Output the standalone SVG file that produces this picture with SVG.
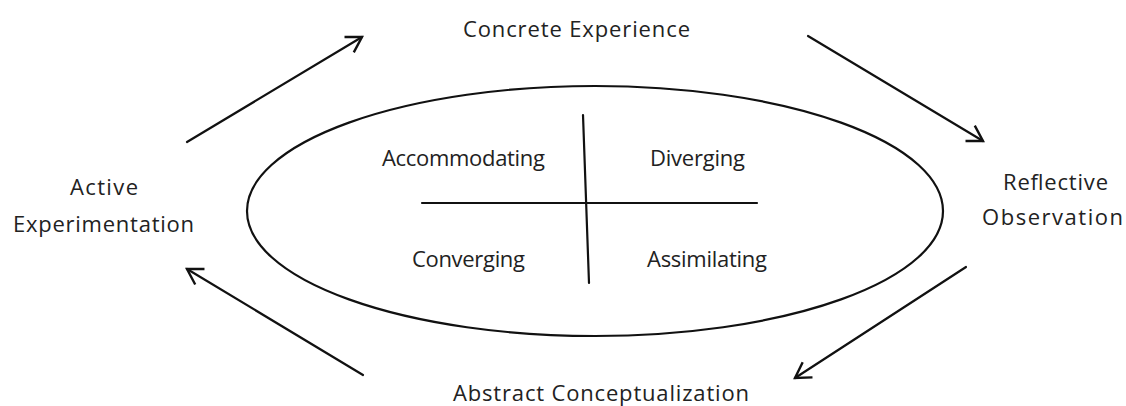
<svg xmlns="http://www.w3.org/2000/svg" width="1126" height="406" viewBox="0 0 1126 406">
<defs>
<style>
text{font-family:"Open Sans","Liberation Sans",sans-serif;font-size:22px;fill:#222;}
.ln{stroke:#111;stroke-width:2.2;fill:none;stroke-linecap:round;}
</style>
<marker id="ah" viewBox="0 0 12 12" refX="11" refY="6" markerWidth="12" markerHeight="12" markerUnits="userSpaceOnUse" orient="auto" overflow="visible">
<path d="M-4,-3 L11,6 L-4,15" fill="none" stroke="#111" stroke-width="2.4"/>
</marker>
</defs>
<rect width="1126" height="406" fill="#fff"/>
<g id="cycle">
<ellipse cx="595" cy="211" rx="348" ry="125" class="ln"/>
<line x1="583" y1="115" x2="589" y2="283" class="ln"/>
<line x1="422" y1="203" x2="757" y2="203" class="ln"/>
</g>
<g id="connectors">
<line x1="187" y1="142" x2="362" y2="37" class="ln" marker-end="url(#ah)"/>
<line x1="808" y1="36" x2="983" y2="141" class="ln" marker-end="url(#ah)"/>
<line x1="966" y1="267" x2="795" y2="378" class="ln" marker-end="url(#ah)"/>
<line x1="363" y1="375" x2="187" y2="269" class="ln" marker-end="url(#ah)"/>
</g>
<g id="concrete"><text x="463" y="37" textLength="227">Concrete Experience</text></g>
<g id="reflective"><text x="1003" y="190" textLength="105">Reflective</text><text x="982" y="225" textLength="141">Observation</text></g>
<g id="abstract"><text x="453" y="401" textLength="296">Abstract Conceptualization</text></g>
<g id="active"><text x="70" y="195" textLength="68">Active</text><text x="13" y="232" textLength="181">Experimentation</text></g>
<g id="accommodating"><text x="382" y="166" textLength="163">Accommodating</text></g>
<g id="diverging"><text x="650" y="166" textLength="95">Diverging</text></g>
<g id="converging"><text x="412" y="267" textLength="113">Converging</text></g>
<g id="assimilating"><text x="647" y="267" textLength="120">Assimilating</text></g>
</svg>
